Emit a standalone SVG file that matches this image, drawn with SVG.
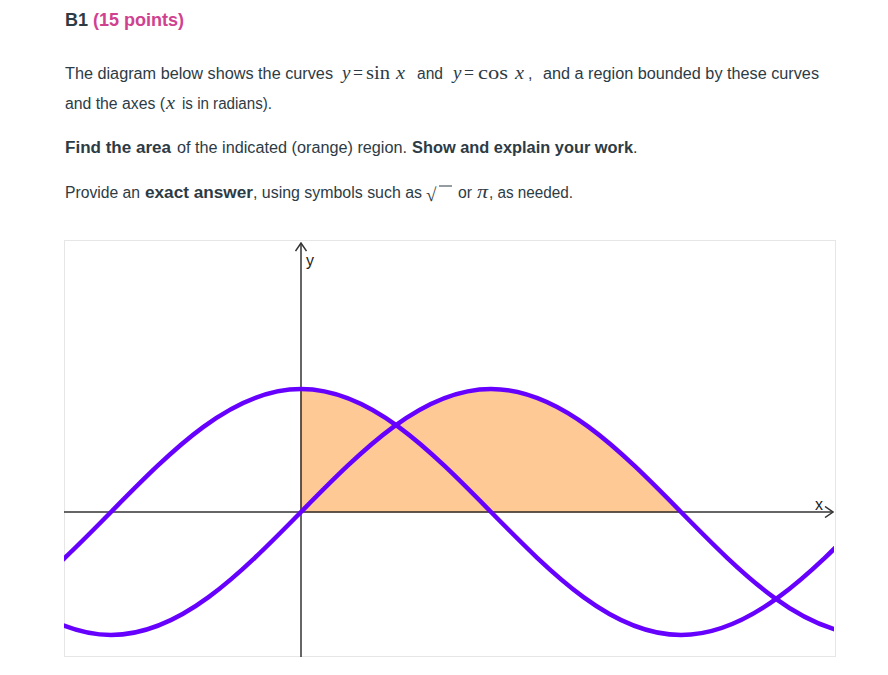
<svg xmlns="http://www.w3.org/2000/svg" width="888" height="675" viewBox="0 0 888 675">
<style>
.t{font-family:"Liberation Sans",Arial,sans-serif;font-size:16px;fill:#2d3b45}
.b{font-weight:bold}
.m{font-family:"Liberation Serif","DejaVu Serif",serif;font-size:19px;fill:#2d3b45}
.i{font-style:italic}
.ax{stroke:#333;stroke-width:1.5;fill:none}
.curve{stroke:#6600ff;stroke-width:4.5;fill:none;stroke-linecap:round}
.lbl{font-family:"Liberation Sans",Arial,sans-serif;font-size:16px;fill:#222}
</style>
<defs>
<marker id="chev" viewBox="0 0 10 12" refX="9" refY="6" markerWidth="10" markerHeight="12" markerUnits="userSpaceOnUse" orient="auto">
<path d="M1 0.5 L9 6 L1 11.5" fill="none" stroke="#333" stroke-width="1.5"/>
</marker>
<clipPath id="frame"><rect x="64" y="241" width="770" height="416"/></clipPath>
</defs>
<rect width="888" height="675" fill="#fff"/>
<g id="header">
<text x="65" y="26" class="t b" style="font-size:18px">B1</text>
<text x="93" y="26" class="t b" style="font-size:18px;fill:#d0418f">(15 points)</text>
</g>
<g id="question">
<text x="65" y="79" class="t" textLength="268" lengthAdjust="spacingAndGlyphs">The diagram below shows the curves</text>
<text x="342" y="79" class="m i">y</text>
<text x="353" y="79" class="m" textLength="10" lengthAdjust="spacingAndGlyphs">=</text>
<text x="366" y="79" class="m" textLength="24" lengthAdjust="spacingAndGlyphs">sin</text>
<text x="396" y="79" class="m i" textLength="9" lengthAdjust="spacingAndGlyphs">x</text>
<text x="417" y="79" class="t" textLength="26" lengthAdjust="spacingAndGlyphs">and</text>
<text x="453" y="79" class="m i">y</text>
<text x="464" y="79" class="m" textLength="10" lengthAdjust="spacingAndGlyphs">=</text>
<text x="478" y="79" class="m" textLength="30" lengthAdjust="spacingAndGlyphs">cos</text>
<text x="515" y="79" class="m i" textLength="9" lengthAdjust="spacingAndGlyphs">x</text>
<text x="528" y="79" class="t">,</text>
<text x="543" y="79" class="t" textLength="276" lengthAdjust="spacingAndGlyphs">and a region bounded by these curves</text>
<text x="65" y="109" class="t" textLength="100" lengthAdjust="spacingAndGlyphs">and the axes (</text>
<text x="166" y="109" class="m i" textLength="9" lengthAdjust="spacingAndGlyphs">x</text>
<text x="182" y="109" class="t" textLength="90" lengthAdjust="spacingAndGlyphs">is in radians).</text>
<text x="65" y="153" class="t b" textLength="106" lengthAdjust="spacingAndGlyphs">Find the area</text>
<text x="177" y="153" class="t" textLength="230" lengthAdjust="spacingAndGlyphs">of the indicated (orange) region.</text>
<text x="412" y="153" class="t b" textLength="221" lengthAdjust="spacingAndGlyphs">Show and explain your work</text>
<text x="633" y="153" class="t">.</text>
<text x="65" y="198" class="t" textLength="75" lengthAdjust="spacingAndGlyphs">Provide an</text>
<text x="145" y="198" class="t b" textLength="108" lengthAdjust="spacingAndGlyphs">exact answer</text>
<text x="253" y="198" class="t" textLength="169" lengthAdjust="spacingAndGlyphs">, using symbols such as</text>
<text x="426" y="201" class="m" style="font-size:19px">√</text>
<line x1="439" y1="186" x2="452" y2="186" stroke="#2d3b45" stroke-width="1"/>
<text x="458" y="198" class="t" textLength="14" lengthAdjust="spacingAndGlyphs">or</text>
<text x="477" y="198" class="m i" textLength="11" lengthAdjust="spacingAndGlyphs">π</text>
<text x="489" y="198" class="t" textLength="84" lengthAdjust="spacingAndGlyphs">, as needed.</text>
</g>
<rect x="64.5" y="240.5" width="771" height="416" fill="#fff" stroke="#e6e6e6" stroke-width="1"/>
<g id="region">
<polygon fill="#fec994" stroke="#c9854a" stroke-width="1" points="301,512 301,389 324.75,391.4 348.5,398.4 372.25,409.7 396,425 419.75,409.7 443.5,398.4 467.25,391.4 491,389 514.75,391.4 538.5,398.4 562.25,409.7 586,425 609.75,443.7 633.5,464.9 657.25,488 681,512"/>
</g>
<g id="axes">
<line class="ax" x1="64" y1="512" x2="833" y2="512" marker-end="url(#chev)"/>
<line class="ax" x1="301" y1="657" x2="301" y2="243" marker-end="url(#chev)"/>
<text x="306" y="266" class="lbl">y</text>
<text x="815" y="510" class="lbl">x</text>
</g>
<g id="curves" clip-path="url(#frame)">
<path id="sin" class="curve" d="M-79 512 c61.97 63.01 121.24 123 190 123 c68.76 0 128.03 -59.99 190 -123 c61.97 -63.01 121.24 -123 190 -123 c68.76 0 128.03 59.99 190 123 c61.97 63.01 121.24 123 190 123"/>
<path id="cos" class="curve" d="M-79 635 c68.76 0 128.03 -59.99 190 -123 c61.97 -63.01 121.24 -123 190 -123 c68.76 0 128.03 59.99 190 123 c61.97 63.01 121.24 123 190 123 c68.76 0 128.03 -59.99 190 -123"/>
</g>
</svg>
